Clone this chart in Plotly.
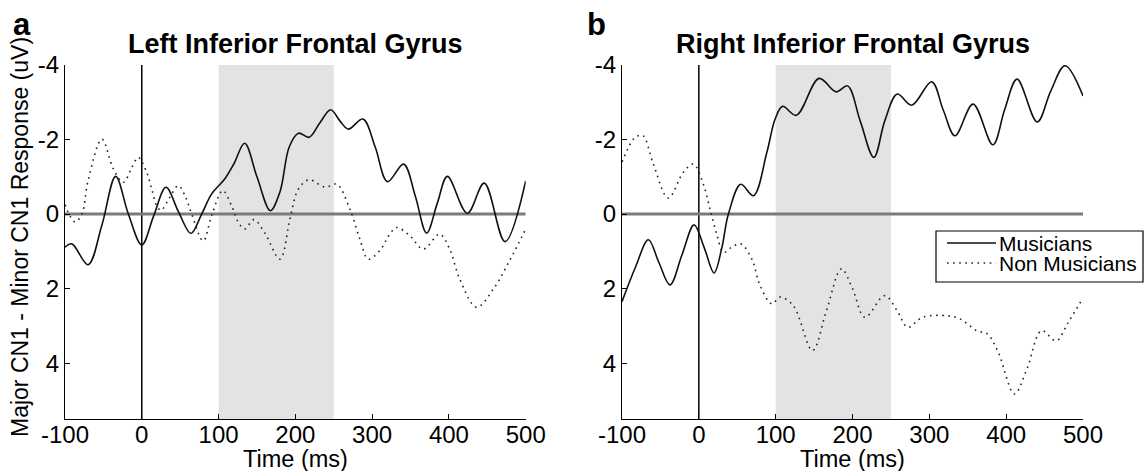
import plotly.graph_objects as go

# ---------------- data ----------------
# Left Inferior Frontal Gyrus
left_mus_t = [-100, -91, -70, -52, -34, -17.5, 0, 15.5, 31.5, 48, 64, 78, 91, 108, 120, 134, 150, 167.5,
              180, 192, 204, 218, 232, 246, 258, 269, 288, 304, 320, 341, 356, 371, 385, 398, 424, 446, 473, 500]
left_mus_v = [0.89, 0.80, 1.36, 0.3, -1.01, 0.0, 0.83, 0.05, -0.72, -0.05, 0.52, 0.0, -0.54, -0.94, -1.35,
              -1.9, -1.0, -0.09, -0.6, -1.8, -2.17, -2.06, -2.45, -2.8, -2.5, -2.28, -2.55, -1.8, -0.87,
              -1.34, -0.5, 0.51, -0.3, -1.01, -0.02, -0.83, 0.74, -0.89]

left_non_t = [-100, -87, -78, -70, -52, -37, -24, -13, -4.5, 6.4, 13, 19.4, 25, 35, 47.6, 56.3, 65, 80, 91,
              105.4, 117, 125.7, 134, 146, 160, 180, 193, 204, 218, 238.6, 254, 271, 284, 295, 310, 323,
              332, 349, 366.7, 388, 401, 414, 436, 458, 480, 500]
left_non_v = [-0.25, 0.21, 0.0, -0.89, -2.01, -1.21, -0.85, -1.25, -1.52, -1.12, -0.67, -0.22, -0.1, -0.4,
              -0.76, -0.49, 0.0, 0.72, 0.04, -0.63, -0.22, 0.22, 0.4, 0.15, 0.5, 1.21, 0.13, -0.67, -0.92,
              -0.72, -0.8, -0.13, 0.67, 1.21, 0.98, 0.54, 0.36, 0.58, 0.94, 0.54, 0.94, 1.74, 2.5, 2.01,
              1.21, 0.4]

# Right Inferior Frontal Gyrus
right_mus_t = [-100, -82, -65.7, -52, -37.5, -22, -6.2, 7, 19.8, 30, 38.5, 54.6, 71, 88.5, 99.3, 109, 126.9,
               156.5, 178.6, 193.6, 210, 227.8, 242, 258.3, 277, 303, 318, 333.4, 356.9, 382.7, 398, 414.2,
               440.4, 458, 476.6, 500]
right_mus_v = [2.35, 1.4, 0.69, 1.3, 1.9, 1.1, 0.29, 0.9, 1.58, 0.9, 0.0, -0.8, -0.49, -1.65, -2.55, -2.89,
               -2.65, -3.64, -3.28, -3.44, -2.5, -1.52, -2.5, -3.22, -2.92, -3.55, -2.8, -2.1, -2.95, -1.86,
               -2.8, -3.62, -2.47, -3.3, -3.98, -3.17]

right_non_t = [-100, -85.3, -79, -72.3, -59.2, -39.7, -20.2, -7.1, 5.9, 14.6, 23.3, 32, 42, 54.6, 69, 79.7,
               95, 105.8, 123, 148, 166, 185.6, 200, 216, 242, 258, 272, 291, 324, 340.5, 361.6, 375.6,
               389.7, 410.8, 427, 446, 465, 481, 500]
right_non_v = [-1.4, -2.01, -2.1, -2.1, -1.34, -0.43, -1.12, -1.34, -0.8, -0.13, 0.54, 1.03, 0.9, 0.8, 1.21,
               1.92, 2.41, 2.23, 2.46, 3.66, 2.6, 1.47, 2.0, 2.77, 2.19, 2.59, 3.04, 2.77, 2.73, 2.82, 3.13,
               3.22, 3.71, 4.83, 4.16, 3.13, 3.4, 2.9, 2.25]

x_ticks = [-100, 0, 100, 200, 300, 400, 500]
y_ticks = [-4, -2, 0, 2, 4]
x_range = [-100, 500]
y_range = [5.5, -4]          # reversed: negative up
window = [100, 250]          # shaded analysis window
onset = 0                    # stimulus onset
panel_titles = ["Left Inferior Frontal Gyrus", "Right Inferior Frontal Gyrus"]
panel_letters = ["a", "b"]
series_names = ["Musicians", "Non Musicians"]

# ---------------- figure ----------------
W, H = 1145, 473
FONT = "Liberation Sans, Arial, Helvetica, sans-serif"
SOLID = dict(color="#111111", width=1.6)
DOTTED = dict(color="#222222", width=1.6, dash="1.6px,4.5px")


def PX(px):
    return px / W


def PY(py):
    return 1 - py / H


fig = go.Figure()

panels = [
    ("x", "y", left_mus_t, left_mus_v, left_non_t, left_non_v),
    ("x2", "y2", right_mus_t, right_mus_v, right_non_t, right_non_v),
]
for xa, ya, mt, mv, nt, nv in panels:
    fig.add_trace(go.Scatter(x=mt, y=mv, mode="lines", name=series_names[0], xaxis=xa, yaxis=ya,
                             line=dict(**SOLID, shape="spline", smoothing=1.0), showlegend=False,
                             hoverinfo="skip"))
    fig.add_trace(go.Scatter(x=nt, y=nv, mode="lines", name=series_names[1], xaxis=xa, yaxis=ya,
                             line=dict(**DOTTED, shape="spline", smoothing=1.0), showlegend=False,
                             hoverinfo="skip"))

# plot-area pixel boxes
px_left = [(65, 525.7), (622, 1083)]
py_top, py_bot = 65, 419
yd = [PY(py_bot), PY(py_top)]

axis_common = dict(showgrid=False, zeroline=False, showline=True, linecolor="black", linewidth=1.2,
                   ticks="inside", ticklen=5, tickcolor="black", tickwidth=1, automargin=False,
                   tickfont=dict(family=FONT, size=24, color="black"))
for i, (a, b) in enumerate(px_left):
    xd = [PX(a), PX(b)]
    sx = "" if i == 0 else "2"
    fig.layout["xaxis" + sx] = dict(domain=xd, range=x_range, tickvals=x_ticks,
                                    ticktext=[str(v) for v in x_ticks], anchor="y" + sx,
                                    ticklabelstandoff=-6, **axis_common)
    fig.layout["yaxis" + sx] = dict(domain=yd, range=y_range, tickvals=y_ticks,
                                    ticktext=[str(v) for v in y_ticks], anchor="x" + sx, **axis_common)
    xr = "x" + sx
    yr = "y" + sx
    fig.add_shape(type="rect", xref=xr, yref=yr + " domain", x0=window[0], x1=window[1], y0=0, y1=1,
                  fillcolor="#e3e3e3", line=dict(width=0), layer="below")
    fig.add_shape(type="line", xref=xr, yref=yr, x0=x_range[0], x1=x_range[1], y0=0, y1=0,
                  line=dict(color="#7b7b7b", width=3), layer="below")
    fig.add_shape(type="line", xref=xr, yref=yr + " domain", x0=onset, x1=onset, y0=0, y1=1,
                  line=dict(color="black", width=1.5), layer="below")
    cx = PX((a + b) / 2)
    fig.add_annotation(text="<b>" + panel_titles[i] + "</b>", x=cx, y=PY(44), xref="paper",
                       yref="paper", showarrow=False, xanchor="center", yanchor="middle",
                       font=dict(family=FONT, size=27, color="black"))
    fig.add_annotation(text="Time (ms)", x=cx, y=PY(459), xref="paper", yref="paper",
                       showarrow=False, xanchor="center", yanchor="middle", height=24,
                       font=dict(family=FONT, size=23.5, color="black"))

for letter, lx in zip(panel_letters, [11, 585]):
    fig.add_annotation(text="<b>" + letter + "</b>", x=PX(lx), y=PY(24), xref="paper", yref="paper",
                       showarrow=False, xanchor="left", yanchor="middle",
                       font=dict(family=FONT, size=31, color="black"))
fig.add_annotation(text="Major CN1 - Minor CN1 Response (uV)", x=PX(20), y=PY(237), xref="paper",
                   yref="paper", showarrow=False, textangle=-90, xanchor="center", yanchor="middle",
                   font=dict(family=FONT, size=23, color="black"))

# manual legend box (page pixels)
lg_x0, lg_x1, lg_y0, lg_y1 = 936, 1143, 231, 282
fig.add_shape(type="rect", xref="paper", yref="paper", x0=PX(lg_x0), x1=PX(lg_x1),
              y0=PY(lg_y1), y1=PY(lg_y0), line=dict(color="black", width=1.2),
              fillcolor="white", layer="above")
for row, (name, style) in enumerate(zip(series_names, [SOLID, DOTTED])):
    yc = PY(243 + 20 * row)
    fig.add_shape(type="line", xref="paper", yref="paper", x0=PX(947), x1=PX(996), y0=yc, y1=yc,
                  line=style, layer="above")
    fig.add_annotation(text=name, x=PX(997), y=yc, xref="paper", yref="paper", showarrow=False,
                       xanchor="left", yanchor="middle", height=19,
                       font=dict(family=FONT, size=21, color="black"))

fig.update_layout(
    template="none",
    width=W, height=H, autosize=False,
    margin=dict(l=0, r=0, t=0, b=0),
    paper_bgcolor="white", plot_bgcolor="white",
    font=dict(family=FONT, color="black"),
    showlegend=False,
    hovermode=False,
)

# page body margin removed so the figure fills the 1145x473 window exactly
fig.write_html("out.html", config={"displayModeBar": False, "staticPlot": True},
               post_script="document.body.style.margin='0';document.body.style.overflow='hidden';")
